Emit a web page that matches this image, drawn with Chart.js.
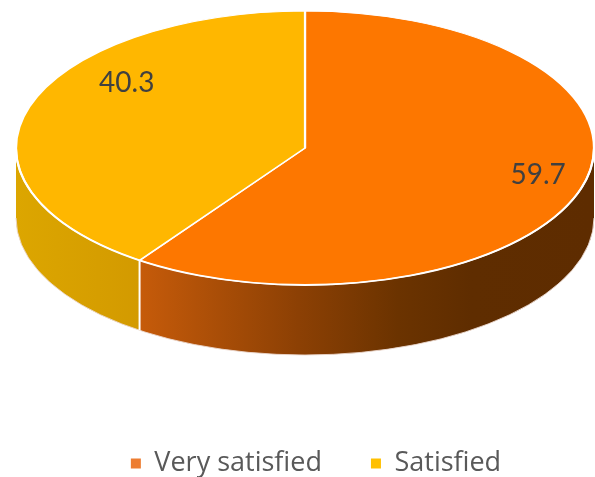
<!DOCTYPE html>
<html><head><meta charset="utf-8">
<script src="https://cdn.jsdelivr.net/npm/chart.js@4/dist/chart.umd.min.js"></script>
<style>html,body{margin:0;padding:0;background:#fff;overflow:hidden}canvas{display:block}</style>
</head><body>
<canvas id="c" width="595" height="477"></canvas>
<script>
// ---- data ----
const categories = ['Very satisfied', 'Satisfied'];
const values = [59.7, 40.3];
const valueLabels = ['59.7', '40.3'];

// ---- styles ----
const topColors = ['#FD7700', '#FFB700'];
const legendColors = ['#ED7D31', '#FFC000'];
const sideStops = [
  [[0, '#C65B0A'], [0.35, '#8C4004'], [0.57, '#6B3300'], [0.73, '#5F2D00'], [1, '#5E2C00']],
  [[0, '#DCA600'], [1, '#D39A00']]
];
const LABEL_FONT = 'Lato, "Open Sans", sans-serif';
const LEGEND_FONT = '"Open Sans", Lato, sans-serif';

function frontRange(s, e) {
  const out = [];
  for (const k of [-1, 0, 1]) {
    const lo = Math.max(s, k * 2 * Math.PI), hi = Math.min(e, k * 2 * Math.PI + Math.PI);
    if (hi > lo) out.push([lo - k * 2 * Math.PI, hi - k * 2 * Math.PI]);
  }
  return out;
}

const pie3d = {
  id: 'pie3d',
  geom(chart) {
    const o = chart.options.plugins.pie3d;
    const a = chart.chartArea;
    const arcs = chart.getDatasetMeta(0).data;
    const rx = a.width / 2;
    const ry = rx * o.tilt;
    return { arcs, o, ex: arcs[0].x, ey: arcs[0].y, R: arcs[0].outerRadius, rx, ry,
             cx: (a.left + a.right) / 2, cy: a.top + ry, depth: o.depth };
  },
  afterLayout(chart) {
    const s = chart.options.plugins.pie3d.legendShift;
    chart.legend.left += s;
    chart.legend.right += s;
  },
  beforeDatasetsDraw(chart) {
    const g = this.geom(chart);
    const ctx = chart.ctx;
    ctx.save();
    g.arcs.forEach((arc, i) => {
      frontRange(arc.startAngle, arc.endAngle).forEach(([lo, hi]) => {
        const xl = g.cx + g.rx * Math.cos(hi), xr = g.cx + g.rx * Math.cos(lo);
        const grad = ctx.createLinearGradient(xl, 0, xr, 0);
        g.o.sideStops[i].forEach(([p, c]) => grad.addColorStop(p, c));
        ctx.beginPath();
        ctx.ellipse(g.cx, g.cy, g.rx, g.ry, 0, lo, hi);
        ctx.ellipse(g.cx, g.cy + g.depth, g.rx, g.ry, 0, hi, lo, true);
        ctx.closePath();
        ctx.fillStyle = grad;
        ctx.fill();
      });
    });
    ctx.beginPath();
    ctx.ellipse(g.cx, g.cy + g.depth, g.rx, g.ry, 0, 0, Math.PI);
    ctx.strokeStyle = 'rgba(235,215,205,0.9)';
    ctx.lineWidth = 1;
    ctx.stroke();
    ctx.strokeStyle = '#FFFFFF';
    ctx.lineWidth = 2;
    g.arcs.forEach(arc => {
      let t = arc.startAngle;
      while (t < 0) t += 2 * Math.PI;
      while (t > 2 * Math.PI) t -= 2 * Math.PI;
      if (t > 0.01 && t < Math.PI - 0.01) {
        const x = g.cx + g.rx * Math.cos(t), y = g.cy + g.ry * Math.sin(t);
        ctx.beginPath(); ctx.moveTo(x, y); ctx.lineTo(x, y + g.depth); ctx.stroke();
      }
    });
    ctx.restore();
    ctx.save();
    ctx.translate(g.cx, g.cy);
    ctx.scale(g.rx / g.R, g.ry / g.R);
    ctx.translate(-g.ex, -g.ey);
  },
  afterDatasetsDraw(chart) {
    const ctx = chart.ctx;
    ctx.restore();
    const g = this.geom(chart);
    ctx.save();
    ctx.beginPath();
    ctx.ellipse(g.cx, g.cy, g.rx, g.ry, 0, 0, Math.PI);
    ctx.strokeStyle = '#FFFFFF';
    ctx.lineWidth = 2;
    ctx.stroke();
    ctx.fillStyle = g.o.labelColor;
    ctx.font = g.o.labelFont;
    ctx.textAlign = 'center';
    ctx.textBaseline = 'middle';
    g.arcs.forEach((arc, i) => {
      const mid = (arc.startAngle + arc.endAngle) / 2 + g.o.labelShift[i] * Math.PI / 180;
      const r = g.o.labelRadius[i];
      ctx.fillText(valueLabels[i], g.cx + g.rx * r * Math.cos(mid), g.cy + g.ry * r * Math.sin(mid));
    });
    ctx.restore();
  }
};

new Chart(document.getElementById('c'), {
  type: 'pie',
  data: {
    labels: categories,
    datasets: [{
      data: values,
      backgroundColor: topColors,
      borderColor: '#FFFFFF',
      borderWidth: 1.5,
      hoverOffset: 0,
      clip: false
    }]
  },
  plugins: [pie3d],
  options: {
    responsive: false,
    animation: false,
    events: [],
    layout: { padding: { left: 16, right: 1, top: 11, bottom: -10 } },
    plugins: {
      tooltip: { enabled: false },
      pie3d: {
        tilt: 137 / 289,
        depth: 70,
        sideStops: sideStops,
        labelShift: [-3.8, 20],
        labelRadius: [0.83, 0.777],
        labelColor: '#404040',
        labelFont: '28px ' + LABEL_FONT,
        legendShift: 11
      },
      legend: {
        position: 'bottom',
        labels: {
          boxWidth: 10,
          boxHeight: 10,
          padding: 49,
          color: '#595959',
          font: { family: LEGEND_FONT, size: 27 },
          generateLabels(chart) {
            return chart.data.labels.map((l, i) => ({
              text: l, fillStyle: legendColors[i], strokeStyle: legendColors[i],
              lineWidth: 0, hidden: false, index: i, fontColor: '#595959'
            }));
          }
        }
      }
    }
  }
});
</script>
</body></html>
